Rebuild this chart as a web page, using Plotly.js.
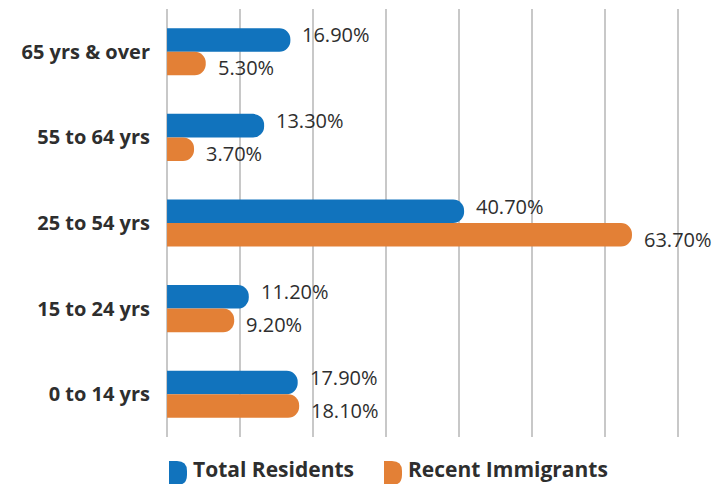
<!DOCTYPE html>
<html>
<head>
<meta charset="utf-8">
<script src="https://cdn.plot.ly/plotly-3.0.1.min.js"></script>
<style>
  html, body { margin: 0; padding: 0; background: #ffffff; }
  #chart { width: 726px; height: 484px; }
</style>
</head>
<body>
<div id="chart"></div>
<script>
// ---- Data ----
const categories = ['65 yrs & over', '55 to 64 yrs', '25 to 54 yrs', '15 to 24 yrs', '0 to 14 yrs'];
const totalResidents = [16.9, 13.3, 40.7, 11.2, 17.9];
const recentImmigrants = [5.3, 3.7, 63.7, 9.2, 18.1];
const seriesNames = ['Total Residents', 'Recent Immigrants'];

// ---- Styling ----
const BLUE = '#1173bd';
const ORANGE = '#e38036';
const TEXT = '#2e2e2e';
const FONT = '"Open Sans", sans-serif';
const W = 726, H = 484;
const M = { l: 165, r: 46, t: 9, b: 47 };
const plotW = W - M.l - M.r;
const plotH = H - M.t - M.b;
const px = x => (x - M.l) / plotW;
const py = y => (H - M.b - y) / plotH;

const fmt = v => v.toFixed(2) + '%';

const traces = [
  { type: 'bar', orientation: 'h', name: seriesNames[0], y: categories, x: totalResidents,
    marker: { color: BLUE }, hoverinfo: 'none' },
  { type: 'bar', orientation: 'h', name: seriesNames[1], y: categories, x: recentImmigrants,
    marker: { color: ORANGE }, hoverinfo: 'none' }
];

const annotations = [];
const labelFont = { family: FONT, size: 20, color: TEXT };
categories.forEach((c, i) => {
  annotations.push({ x: totalResidents[i], y: c, xref: 'x', yref: 'y', text: fmt(totalResidents[i]),
    showarrow: false, xanchor: 'left', yanchor: 'middle', xshift: 10, yshift: 17, font: labelFont });
  annotations.push({ x: recentImmigrants[i], y: c, xref: 'x', yref: 'y', text: fmt(recentImmigrants[i]),
    showarrow: false, xanchor: 'left', yanchor: 'middle', xshift: 10, yshift: -16, font: labelFont });
});

// custom legend (D-shaped swatches + bold text)
const legendFont = { family: FONT, size: 21, color: TEXT, weight: 700 };
const legendItems = [
  { x0: 169, textX: 191, color: BLUE, name: seriesNames[0] },
  { x0: 384, textX: 406, color: ORANGE, name: seriesNames[1] }
];
const shapes = [];
legendItems.forEach(it => {
  const x0 = it.x0, x1 = it.x0 + 18, y0 = 461, y1 = 485, r = 10;
  const p = (x, y) => px(x).toFixed(5) + ',' + py(y).toFixed(5);
  shapes.push({
    type: 'path', xref: 'paper', yref: 'paper',
    path: 'M' + p(x0, y0) + ' L' + p(x1 - r, y0) + ' Q' + p(x1, y0) + ' ' + p(x1, y0 + r) +
          ' L' + p(x1, y1 - r) + ' Q' + p(x1, y1) + ' ' + p(x1 - r, y1) + ' L' + p(x0, y1) + ' Z',
    fillcolor: it.color, line: { width: 0 }
  });
  annotations.push({ x: px(it.textX), y: py(469), xref: 'paper', yref: 'paper', text: it.name,
    showarrow: false, xanchor: 'left', yanchor: 'middle', font: legendFont });
});

const layout = {
  width: W, height: H,
  margin: M,
  paper_bgcolor: '#ffffff', plot_bgcolor: '#ffffff',
  barmode: 'group', bargap: 0.45, bargroupgap: 0,
  barcornerradius: 11,
  showlegend: false,
  xaxis: {
    range: [-0.28, 70.28], dtick: 10, tick0: 0, showgrid: true, gridcolor: '#c8c8c8', gridwidth: 1.2,
    zeroline: false, showticklabels: false, showline: false, fixedrange: true
  },
  yaxis: {
    type: 'category', autorange: 'reversed', showgrid: false, zeroline: false, showline: false,
    ticks: '', ticklabelstandoff: 14,
    tickfont: { family: FONT, size: 20, color: TEXT, weight: 700 }
  },
  annotations: annotations,
  shapes: shapes
};

Plotly.newPlot('chart', traces, layout, { displayModeBar: false, staticPlot: true });
</script>
</body>
</html>
